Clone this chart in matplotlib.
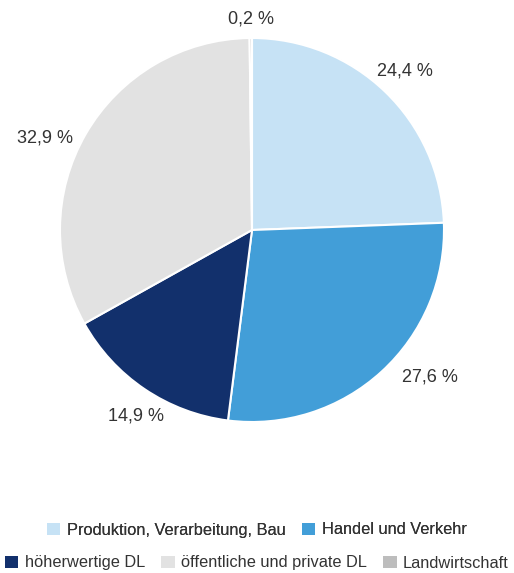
import numpy as np
import matplotlib.pyplot as plt
from matplotlib.patches import Patch

plt.rcParams['font.family'] = ['Liberation Sans', 'DejaVu Sans']

# Data
categories = ["Produktion, Verarbeitung, Bau", "Handel und Verkehr", "höherwertige DL",
              "öffentliche und private DL", "Landwirtschaft"]
shares = [24.4, 27.6, 14.9, 32.9, 0.2]
colors = ['#c6e2f5', '#429ed8', '#12306c', '#e2e2e2', '#bdbdbd']
TEXT = '#333333'

fig = plt.figure(figsize=(5.14, 5.73), dpi=100)
ax = fig.add_axes([0, 0, 1, 1])

cx, cy, r = 252, 343, 192
wedges, _ = ax.pie(shares, colors=colors, startangle=90, counterclock=False,
                   center=(cx, cy), radius=r, frame=True,
                   wedgeprops={'edgecolor': 'white', 'linewidth': 1.5})
ax.set_xlim(0, 514)
ax.set_ylim(0, 573)
ax.set_aspect('equal')
ax.axis('off')

# label placement (radius factor, angle tweak in degrees)
label_dist = [1.15, 1.2, 1.14, 1.18, 1.1]
label_shift = [0, 8, 2, 6, 0]
for w, val, d, s in zip(wedges, shares, label_dist, label_shift):
    ang = np.deg2rad((w.theta1 + w.theta2) / 2 + s)
    ax.text(cx + d * r * np.cos(ang), cy + d * r * np.sin(ang),
            f"{val:.1f} %".replace('.', ','), ha='center', va='center',
            fontsize=13, color=TEXT)

handles = [Patch(facecolor=c, edgecolor='none') for c in colors]
leg_kw = dict(loc='center', frameon=False, fontsize=11.8, handlelength=0.8, handleheight=0.8,
              handletextpad=0.4, labelcolor=TEXT, borderpad=0, borderaxespad=0)
leg1 = fig.legend(handles[:2], categories[:2], bbox_to_anchor=(0.5, 1 - 530 / 573),
                  ncol=2, columnspacing=1.0, **leg_kw)
leg2 = fig.legend(handles[2:], categories[2:], bbox_to_anchor=(0.5, 1 - 563 / 573),
                  ncol=3, columnspacing=1.0, **leg_kw)
fig.add_artist(leg1)

fig.savefig('out.png', dpi=100)
